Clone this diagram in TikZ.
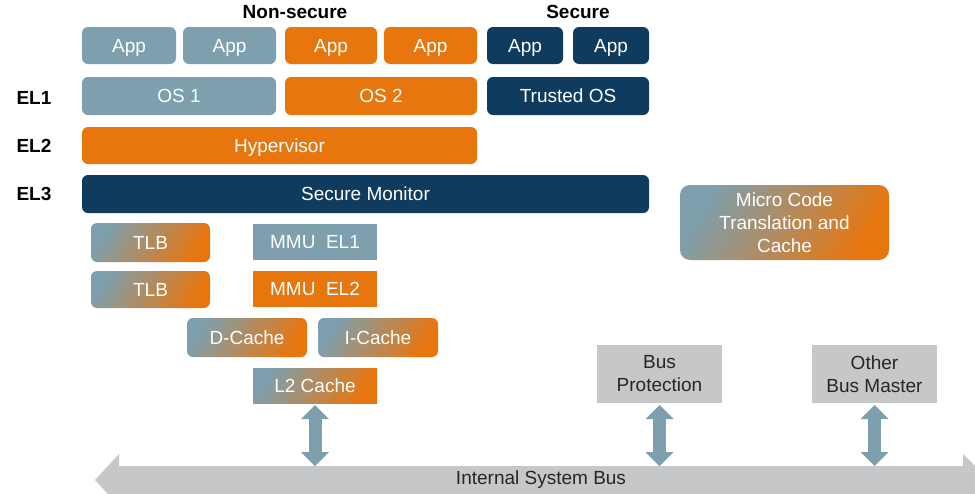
\documentclass[tikz,border=0pt]{standalone}
\usepackage{fontspec}
\setmainfont{Liberation Sans}
\usetikzlibrary{arrows.meta}

\definecolor{elgray}{HTML}{7E9FAD}
\definecolor{elorange}{HTML}{E8760E}
\definecolor{elnavy}{HTML}{0F3B5E}
\definecolor{busgray}{HTML}{C6C7C8}
\definecolor{bustext}{HTML}{262626}

\tikzset{
  base/.style={rectangle, inner sep=0pt, outer sep=0pt, text=white,
    font=\fontsize{19}{23}\selectfont, align=center},
  blk/.style={base, minimum height=37pt, text height=13.5pt, text depth=0pt},
  rblk/.style={blk, rounded corners=6pt},
  grayblk/.style={rblk, fill=elgray},
  orangeblk/.style={rblk, fill=elorange},
  navyblk/.style={rblk, fill=elnavy},
  gradblk/.style={rblk, left color=elgray, right color=elorange, shading angle=60},
  masterblk/.style={base, fill=busgray, text=bustext, minimum width=125pt, minimum height=58pt},
  lvl/.style={anchor=west, font=\bfseries\fontsize{19}{23}\selectfont, text=black},
  busarrow/.style={draw=elgray, line width=13pt,
    {Triangle[width=28pt,length=14pt,line width=0pt]}-{Triangle[width=28pt,length=14pt,line width=0pt]}},
}

\begin{document}
\begin{tikzpicture}[x=1pt, y=-1pt]
    \useasboundingbox (0,0) rectangle (975,493);

    % --- 1. titles and exception levels ---
    \node[lvl, anchor=center] (nonsec) at (295,12) {Non-secure};
    \node[lvl, anchor=center] (sec) at (578,12) {Secure};
    \node[lvl] (el1) at (13,98) {EL1};
    \node[lvl] (el2) at (13,146) {EL2};
    \node[lvl] (el3) at (13,194) {EL3};

    % --- 2. applications ---
    \node[grayblk, minimum width=94pt] (app1) at (129,45.5) {App};
    \node[grayblk, minimum width=93pt] (app2) at (229.5,45.5) {App};
    \node[orangeblk, minimum width=92pt] (app3) at (331,45.5) {App};
    \node[orangeblk, minimum width=93pt] (app4) at (430.5,45.5) {App};
    \node[navyblk, minimum width=76pt] (app5) at (525,45.5) {App};
    \node[navyblk, minimum width=76pt] (app6) at (611,45.5) {App};

    % --- 3. operating systems, hypervisor, monitor ---
    \node[grayblk, minimum width=194pt, minimum height=38pt] (os1) at (179,96) {OS 1};
    \node[orangeblk, minimum width=192pt, minimum height=38pt] (os2) at (381,96) {OS 2};
    \node[navyblk, minimum width=162pt, minimum height=38pt] (tos) at (568,96) {Trusted OS};
    \node[orangeblk, minimum width=395pt] (hyp) at (279.5,145.5) {Hypervisor};
    \node[navyblk, minimum width=567pt, minimum height=38pt] (mon) at (365.5,194) {Secure Monitor};

    % --- 4. TLBs, MMUs and caches ---
    \node[gradblk, minimum width=119pt, minimum height=39pt] (tlb1) at (150.5,242.5) {TLB};
    \node[gradblk, minimum width=119pt] (tlb2) at (150.5,289.5) {TLB};
    \node[blk, fill=elgray, minimum width=124pt, minimum height=36pt] (mmu1) at (315,242) {MMU~~EL1};
    \node[blk, fill=elorange, minimum width=124pt, minimum height=36pt] (mmu2) at (315,288.5) {MMU~~EL2};
    \node[gradblk, minimum width=120pt, minimum height=39pt] (dcache) at (247,337.5) {D-Cache};
    \node[gradblk, minimum width=120pt, minimum height=39pt] (icache) at (378,337.5) {I-Cache};
    \node[blk, left color=elgray, right color=elorange, shading angle=60,
          minimum width=124pt, minimum height=35pt] (l2) at (315,385.5) {L2 Cache};
    \node[base, rounded corners=10pt, left color=elgray, right color=elorange, shading angle=60,
          minimum width=209pt, minimum height=75pt] (ucode) at (784.5,222.5)
          {Micro Code\\Translation and\\Cache};

    % --- 5. bus masters ---
    \node[masterblk] (prot) at (659.5,374) {Bus\\Protection};
    \node[masterblk] (other) at (874.5,374) {Other\\Bus Master};

    % --- 6. internal system bus ---
    \fill[busgray] (95,480) -- (119,454) -- (119,466) -- (963,466) -- (963,454)
      -- (989,480) -- (963,506) -- (963,494) -- (119,494) -- (119,506) -- cycle;
    \coordinate (bustop) at (0,466);
    \node[base, text=bustext, text height=13.5pt, text depth=0pt] (bus) at (541,478) {Internal System Bus};

    % --- 7. links to the bus ---
    \draw[busarrow, shorten <=2pt] (l2.south) -- (l2.south |- bustop);
    \draw[busarrow, shorten <=2pt] (prot.south) -- (prot.south |- bustop);
    \draw[busarrow, shorten <=2pt] (other.south) -- (other.south |- bustop);
\end{tikzpicture}
\end{document}
